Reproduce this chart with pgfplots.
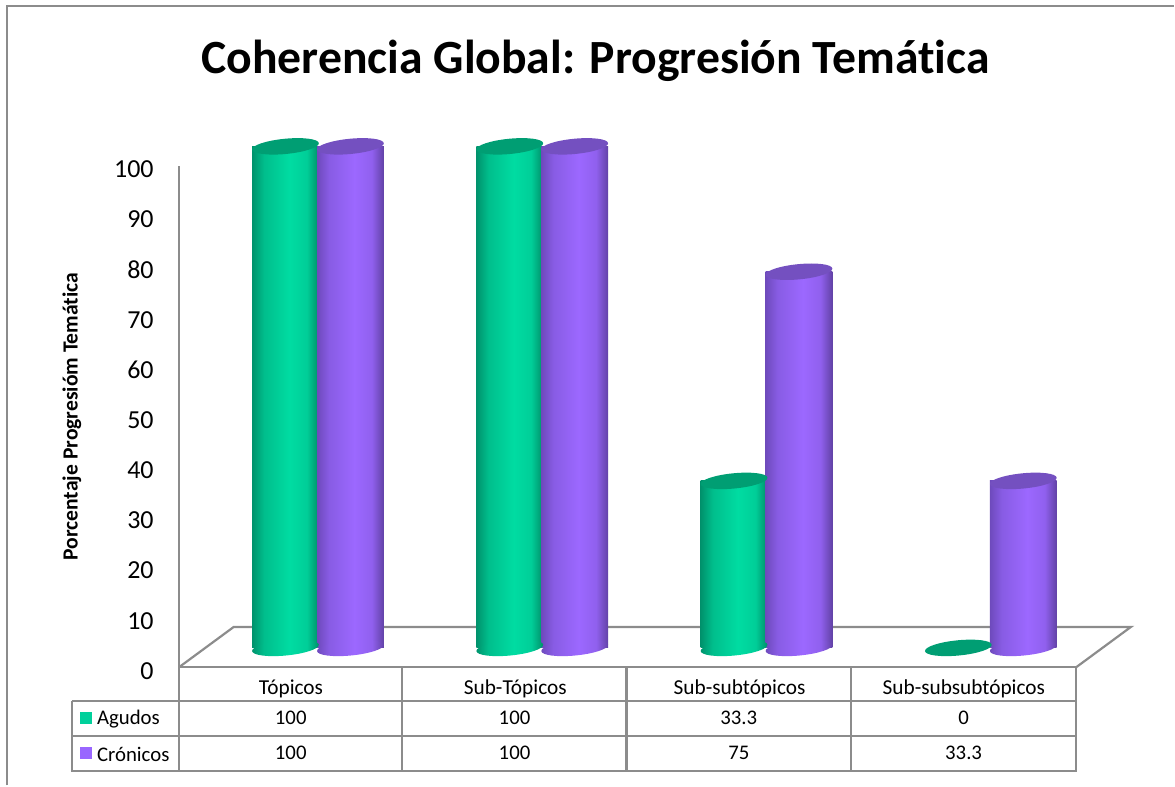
\documentclass[border=0pt]{standalone}
\usepackage{fontspec}
\setmainfont{Carlito}[Ligatures=NoCommon]
\usepackage{pgfplots}
\pgfplotsset{compat=1.18}
\definecolor{gridg}{RGB}{140,140,140}
\definecolor{legG}{RGB}{0,208,155}
\definecolor{legP}{RGB}{153,102,255}
\definecolor{capG}{RGB}{0,158,115}
\definecolor{capP}{RGB}{116,80,192}
\definecolor{gA}{RGB}{0,146,108}
\definecolor{gB}{RGB}{0,190,140}
\definecolor{gC}{RGB}{0,220,162}
\definecolor{gD}{RGB}{0,206,152}
\definecolor{gE}{RGB}{0,142,104}
\definecolor{pA}{RGB}{110,74,188}
\definecolor{pB}{RGB}{136,92,228}
\definecolor{pC}{RGB}{156,104,255}
\definecolor{pD}{RGB}{144,96,238}
\definecolor{pE}{RGB}{98,66,166}
\pgfdeclarehorizontalshading{cylG}{100bp}{
 color(0bp)=(gA);color(25bp)=(gA);color(34bp)=(gB);color(53bp)=(gC);color(66bp)=(gD);color(75bp)=(gE);color(100bp)=(gE)}
\pgfdeclarehorizontalshading{cylP}{100bp}{
 color(0bp)=(pA);color(25bp)=(pA);color(34bp)=(pB);color(53bp)=(pC);color(66bp)=(pD);color(75bp)=(pE);color(100bp)=(pE)}
\newcommand{\capellipse}{\pgfpathellipse{\pgfpointorigin}{\pgfpoint{33.4pt}{3.2pt}}{\pgfpoint{-0.7pt}{7.6pt}}}
\pgfdeclareplotmark{capG}{\capellipse\pgfsetfillcolor{capG}\pgfusepathqfill}
\pgfdeclareplotmark{capP}{\capellipse\pgfsetfillcolor{capP}\pgfusepathqfill}
\pgfdeclareplotmark{botG}{\capellipse\pgfshadepath{cylG}{0}\pgfusepath{discard}}
\pgfdeclareplotmark{botP}{\capellipse\pgfshadepath{cylP}{0}\pgfusepath{discard}}
% #1 category position, #2 value, #3 G or P, #4 horizontal offset
\newcommand{\cyl}[4]{%
  \addplot[only marks,mark=bot#3,forget plot,xshift=#4,yshift=19.5pt] coordinates {(#1,0)};
  \addplot[ybar,bar width=66.8pt,bar shift=0pt,draw=none,shading=cyl#3,forget plot,xshift=#4,yshift=19.5pt] coordinates {(#1,#2)};
  \addplot[only marks,mark=cap#3,forget plot,xshift=#4,yshift=19.5pt] coordinates {(#1,#2)};
}
\newcommand{\capOnly}[4]{%
  \addplot[only marks,mark=cap#3,forget plot,xshift=#4,yshift=19.5pt] coordinates {(#1,#2)};
}
\begin{document}
\begin{tikzpicture}[x=1pt,y=-1pt]
\begin{scope}[yshift=786pt]
\path (0,0) rectangle (1175,786);
\draw[gridg,line width=2.2pt] (7,786) -- (7,5.7) -- (1175,5.7);
\draw[gridg,line width=2.2pt,line join=miter] (179,668) -- (234,627.5) -- (1132,627.5) -- (1077,668);
\end{scope}
\begin{axis}[
  at={(179pt,118pt)},anchor=origin,
  scale only axis,width=898pt,height=502pt,
  xmin=0,xmax=4,ymin=0,ymax=100,
  clip=false,
  axis lines=left,
  axis line style={-,gridg,line width=2.2pt},
  xtick={0.5,1.5,2.5,3.5},
  xticklabels={Tópicos,Sub-Tópicos,Sub-subtópicos,Sub-subsubtópicos},
  x tick label style={font=\fontsize{21.3}{23}\selectfont,anchor=base,yshift=-27pt},
  ytick={0,10,...,100},
  major tick length=0pt,
  y tick label style={font=\fontsize{26}{28}\selectfont,/pgf/number format/assume math mode=true,yshift=-3.5pt},
  yticklabel style={anchor=east},
  ylabel={\textbf{Porcentaje Progresióm Temática}},
  ylabel style={font=\fontsize{21.6}{23}\selectfont,at={(axis description cs:0,0.5)},anchor=center,xshift=0pt,yshift=107pt},
  tick label style={inner sep=0pt},
  yticklabel shift=25pt,
]
\cyl{0.5}{100}{G}{-5.5pt}
\cyl{0.5}{100}{P}{59.5pt}
\cyl{1.5}{100}{G}{-5.5pt}
\cyl{1.5}{100}{P}{59.5pt}
\cyl{2.5}{33.3}{G}{-5.5pt}
\cyl{2.5}{75}{P}{59.5pt}
\capOnly{3.5}{0}{G}{-5.5pt}
\cyl{3.5}{33.3}{P}{59.5pt}
\end{axis}
\begin{scope}[yshift=786pt]
\node[anchor=center,font=\bfseries\fontsize{47.7}{50}\selectfont] at (596,61) {Coherencia Global: Progresión Temática};
\draw[gridg,line width=2.2pt] (72,701.7) -- (1077,701.7);
\draw[gridg,line width=2.2pt] (72,736.7) -- (1077,736.7);
\draw[gridg,line width=2.2pt] (71,771.7) -- (1078,771.7);
\draw[gridg,line width=2.2pt] (72,701.7) -- (72,771.7);
\foreach \x in {179,402.5,627,852,1077} \draw[gridg,line width=2.2pt] (\x,668) -- (\x,771.7);
\fill[legG] (80,713) rectangle (92,725);
\fill[legP] (80,748) rectangle (92,760);
\node[anchor=west,inner sep=0pt,font=\fontsize{20.8}{22}\selectfont] at (97,720) {Agudos};
\node[anchor=west,inner sep=0pt,font=\fontsize{20.8}{22}\selectfont] at (97,755) {Crónicos};
\foreach \x/\a/\b in {291/100/100,515/100/100,739.5/33.3/75,964.5/0/33.3}{
  \node[font=\fontsize{20.8}{22}\selectfont,inner sep=0pt] at (\x,719) {\a};
  \node[font=\fontsize{20.8}{22}\selectfont,inner sep=0pt] at (\x,754) {\b};
}
\end{scope}
\end{tikzpicture}
\end{document}
